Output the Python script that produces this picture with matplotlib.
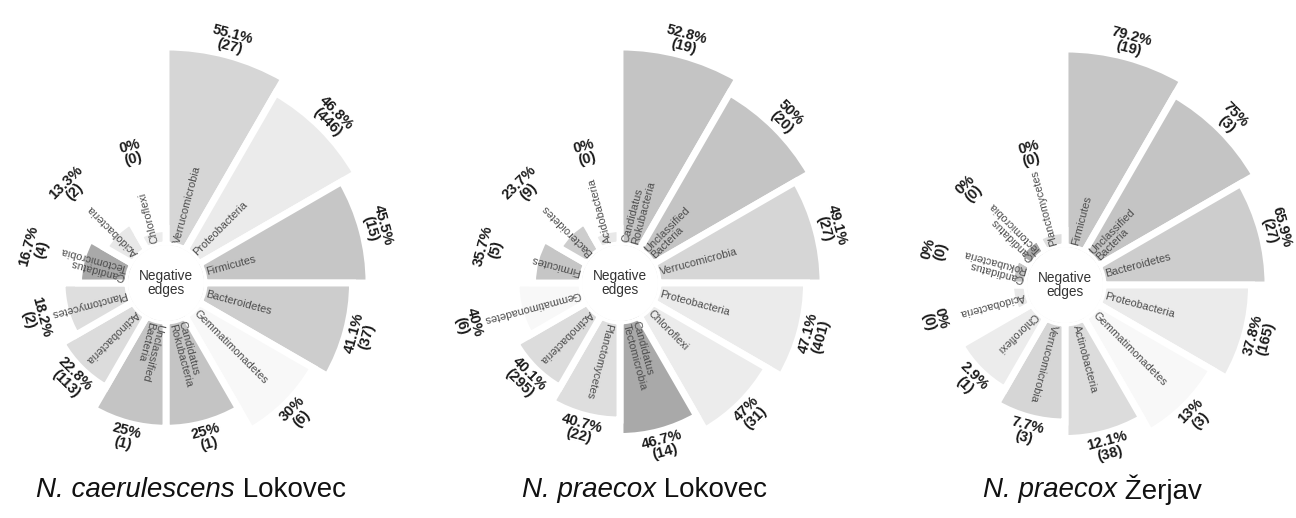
import numpy as np
import pandas as pd
import matplotlib
matplotlib.use("Agg")
import matplotlib.pyplot as plt
from matplotlib.font_manager import FontProperties

# Phyla listed clockwise from 12 o'clock, with share of negative edges (%) and edge counts
taxa_caer_lok = ["Verrucomicrobia", "Proteobacteria", "Firmicutes", "Bacteroidetes",
                 "Gemmatimonadetes", "Candidatus\nRokubacteria", "Unclassified\nBacteria",
                 "Actinobacteria", "Planctomycetes", "Candidatus\nTectomicrobia",
                 "Acidobacteria", "Chloroflexi"]
pct_caer_lok = [55.1, 46.8, 45.5, 41.1, 30, 25, 25, 22.8, 18.2, 16.7, 13.3, 0]
n_caer_lok = [27, 446, 15, 37, 6, 1, 1, 113, 2, 4, 2, 0]

taxa_prae_lok = ["Candidatus\nRokubacteria", "Unclassified\nBacteria", "Verrucomicrobia",
                 "Proteobacteria", "Chloroflexi", "Candidatus\nTectomicrobia",
                 "Planctomycetes", "Actinobacteria", "Gemmatimonadetes", "Firmicutes",
                 "Bacteroidetes", "Acidobacteria"]
pct_prae_lok = [52.8, 50, 49.1, 47.1, 47, 46.7, 40.7, 40.1, 40, 35.7, 23.7, 0]
n_prae_lok = [19, 20, 27, 401, 31, 14, 22, 295, 6, 5, 9, 0]

taxa_prae_zer = ["Firmicutes", "Unclassified\nBacteria", "Bacteroidetes", "Proteobacteria",
                 "Gemmatimonadetes", "Actinobacteria", "Verrucomicrobia", "Chloroflexi",
                 "Acidobacteria", "Candidatus\nRokubacteria", "Candidatus\nTectomicrobia",
                 "Planctomycetes"]
pct_prae_zer = [79.2, 75, 65.9, 37.8, 13, 12.1, 7.7, 2.9, 0, 0, 0, 0]
n_prae_zer = [19, 3, 27, 165, 3, 38, 3, 1, 0, 0, 0, 0]

titles = [("N. caerulescens", " Lokovec"), ("N. praecox", " Lokovec"), ("N. praecox", " Žerjav")]

# One grey per phylum, shared by all panels
shade = {
    "Verrucomicrobia": "#d6d6d6",
    "Proteobacteria": "#ebebeb",
    "Firmicutes": "#c6c6c6",
    "Bacteroidetes": "#cdcdcd",
    "Gemmatimonadetes": "#f8f8f8",
    "Candidatus\nRokubacteria": "#c4c4c4",
    "Unclassified\nBacteria": "#c4c4c4",
    "Actinobacteria": "#dcdcdc",
    "Planctomycetes": "#dedede",
    "Candidatus\nTectomicrobia": "#a9a9a9",
    "Acidobacteria": "#e8e8e8",
    "Chloroflexi": "#ececec",
}

W, H = 1296, 518
R0 = 38.0     # radius of the central hole, px
K = 16.5      # px per rank step on the radial axis
RMAX = 13.5   # radial limit in rank units
NAME_R = 0.2  # where phylum names start, rank units
NAME_SIZE = 7.9
PCT_SIZE = 10.5

fig = plt.figure(figsize=(W / 100, H / 100), dpi=100)
renderer = fig.canvas.get_renderer()
name_font = FontProperties(family="Liberation Sans", size=NAME_SIZE)


def rank_radius(values):
    """Radial position of each bar: rank of its share (ties averaged), zero shares get the base step."""
    s = pd.Series(values, dtype=float)
    r = s.rank(method="average")
    r[s == 0] = 1.0
    return r.to_numpy()


def name_length(name):
    """Length in rank units of the longest line of a phylum name."""
    w = max(renderer.get_text_width_height_descent(line, name_font, ismath=False)[0]
            for line in name.split("\n"))
    return w / K


def circular_panel(cx, cy, taxa, pct, counts):
    rpx = R0 + RMAX * K
    ax = fig.add_axes([(cx - rpx) / W, (H - cy - rpx) / H, 2 * rpx / W, 2 * rpx / H],
                      projection="polar")
    ax.set_theta_zero_location("N")
    ax.set_theta_direction(-1)
    ax.set_ylim(0, RMAX)
    ax.set_rorigin(-R0 / K)
    ax.axis("off")

    nb = len(taxa)
    step = 360.0 / nb
    theta = np.deg2rad((np.arange(nb) + 0.5) * step)
    heights = rank_radius(pct)
    ax.bar(theta, heights, width=np.deg2rad(step), bottom=0,
           color=[shade[t] for t in taxa], edgecolor="white", linewidth=5.0)

    for i, (t, p, n, h) in enumerate(zip(taxa, pct, counts, heights)):
        phi = 90 - (i + 0.5) * step           # direction of the bar in screen degrees
        ax.text(theta[i], NAME_R, t, rotation=phi, rotation_mode="anchor",
                ha="left", va="center", fontproperties=name_font, color="#4d4d4d",
                linespacing=0.95)
        rot = (phi % 180) - 90                # tangential, kept upright
        rl = max(h + 0.9, NAME_R + name_length(t) + 1.0, 5.9)
        ax.text(theta[i], rl, f"{p:g}%\n({n})", rotation=rot, rotation_mode="anchor",
                ha="center", va="center", fontsize=PCT_SIZE, fontweight="bold",
                color="#1a1a1a", linespacing=0.92, family="Liberation Sans")

    ax.text(0.5, 0.5, "Negative\nedges", transform=ax.transAxes, ha="center", va="center",
            fontsize=9.8, color="#333333", linespacing=0.95, family="Liberation Sans")
    return ax


circular_panel(166, 283, taxa_caer_lok, pct_caer_lok, n_caer_lok)
circular_panel(620, 283, taxa_prae_lok, pct_prae_lok, n_prae_lok)
circular_panel(1065, 285, taxa_prae_zer, pct_prae_zer, n_prae_zer)

# Panel titles: italic species name followed by upright site name
title_font = ["Liberation Sans Narrow", "Liberation Sans", "DejaVu Sans"]
for (species, site), xc in zip(titles, [191, 645, 1092]):
    y = (H - 490) / H
    t1 = fig.text(0, y, species, fontsize=20, style="italic", family=title_font,
                  va="center", ha="left", color="#111111")
    t2 = fig.text(0, y, site, fontsize=20, family=title_font,
                  va="center", ha="left", color="#111111")
    w1 = t1.get_window_extent(renderer).width
    w2 = t2.get_window_extent(renderer).width
    x0 = xc - (w1 + w2) / 2
    t1.set_x(x0 / W)
    t2.set_x((x0 + w1) / W)

fig.savefig("out.png", dpi=100, facecolor="white")
